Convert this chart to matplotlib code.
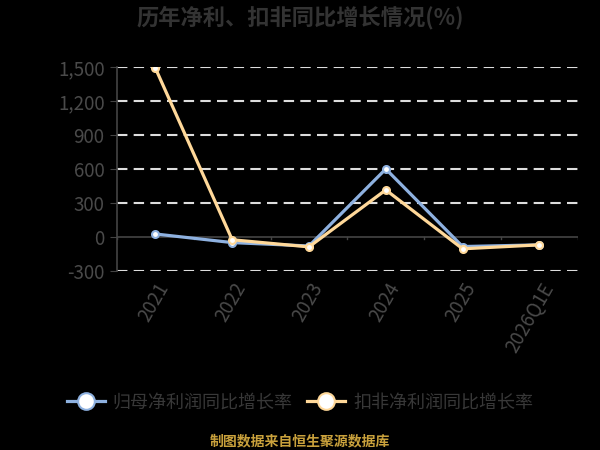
import matplotlib
matplotlib.use('Agg')
import matplotlib.pyplot as plt
import numpy as np

plt.rcParams['font.family'] = ['Noto Sans CJK SC', 'DejaVu Sans']

# data
categories = ['2021', '2022', '2023', '2024', '2025', '2026Q1E']
parent_growth = [26, -50, -80, 600, -85, -70]
deduct_growth = [1490, -25, -88, 415, -105, -70]
yticks = [-300, 0, 300, 600, 900, 1200, 1500]

blue = '#8eb1e0'
yellow = '#ffd899'

fig = plt.figure(figsize=(6, 4.5), dpi=100, facecolor='black')
ax = fig.add_axes([0.195, 0.398, 0.768, 0.453])
ax.set_facecolor('black')

x = np.arange(len(categories))
ax.plot(x, parent_growth, color=blue, lw=2.3, marker='o', ms=5,
        mfc='white', mec=blue, mew=1.5, zorder=3, label='归母净利润同比增长率')
ax.plot(x, deduct_growth, color=yellow, lw=2.3, marker='o', ms=5,
        mfc='white', mec=yellow, mew=1.5, zorder=3, label='扣非净利润同比增长率')

ax.set_xlim(-0.5, len(categories) - 0.5)
ax.set_ylim(-300, 1500)
ax.set_yticks(yticks)
ax.set_yticklabels([f'{v:,}' for v in yticks], color='#4a4a4a', fontsize=13.5)
for v in yticks:
    if v != 0:
        ax.axhline(v, color='#dddddd', lw=1.5, ls=(0, (5, 3)), zorder=1)
ax.axhline(0, color='#444444', lw=1.2, zorder=2)

ax.set_xticks(x)
ax.set_xticklabels(categories, rotation=60, ha='right', rotation_mode='anchor',
                   color='#4a4a4a', fontsize=13.5)
ax.tick_params(axis='x', length=0, pad=6)
# category boundary ticks on zero line
for b in np.arange(-0.5, len(categories), 1.0):
    ax.plot([b, b], [0, -22], color='#444444', lw=1, zorder=2)
ax.tick_params(axis='y', length=5, color='#444444', pad=4)

for s in ['top', 'right', 'bottom']:
    ax.spines[s].set_visible(False)
ax.spines['left'].set_color('#444444')
ax.spines['left'].set_linewidth(1.2)

fig.text(0.5, 0.96, '历年净利、扣非同比增长情况(%)', ha='center', va='center',
         fontsize=16, fontweight='bold', color='#333333')

leg = fig.legend(loc='center', bbox_to_anchor=(0.5, 0.105), ncol=2, frameon=False,
                 fontsize=13, markerscale=2.4, handlelength=2.1, handletextpad=0.45,
                 columnspacing=0.8, labelcolor='#383838')

fig.text(0.5, 0.02, '制图数据来自恒生聚源数据库', ha='center', va='center',
         fontsize=10, fontweight='bold', color='#c9a13c')

fig.savefig('out.png', dpi=100, facecolor='black')
